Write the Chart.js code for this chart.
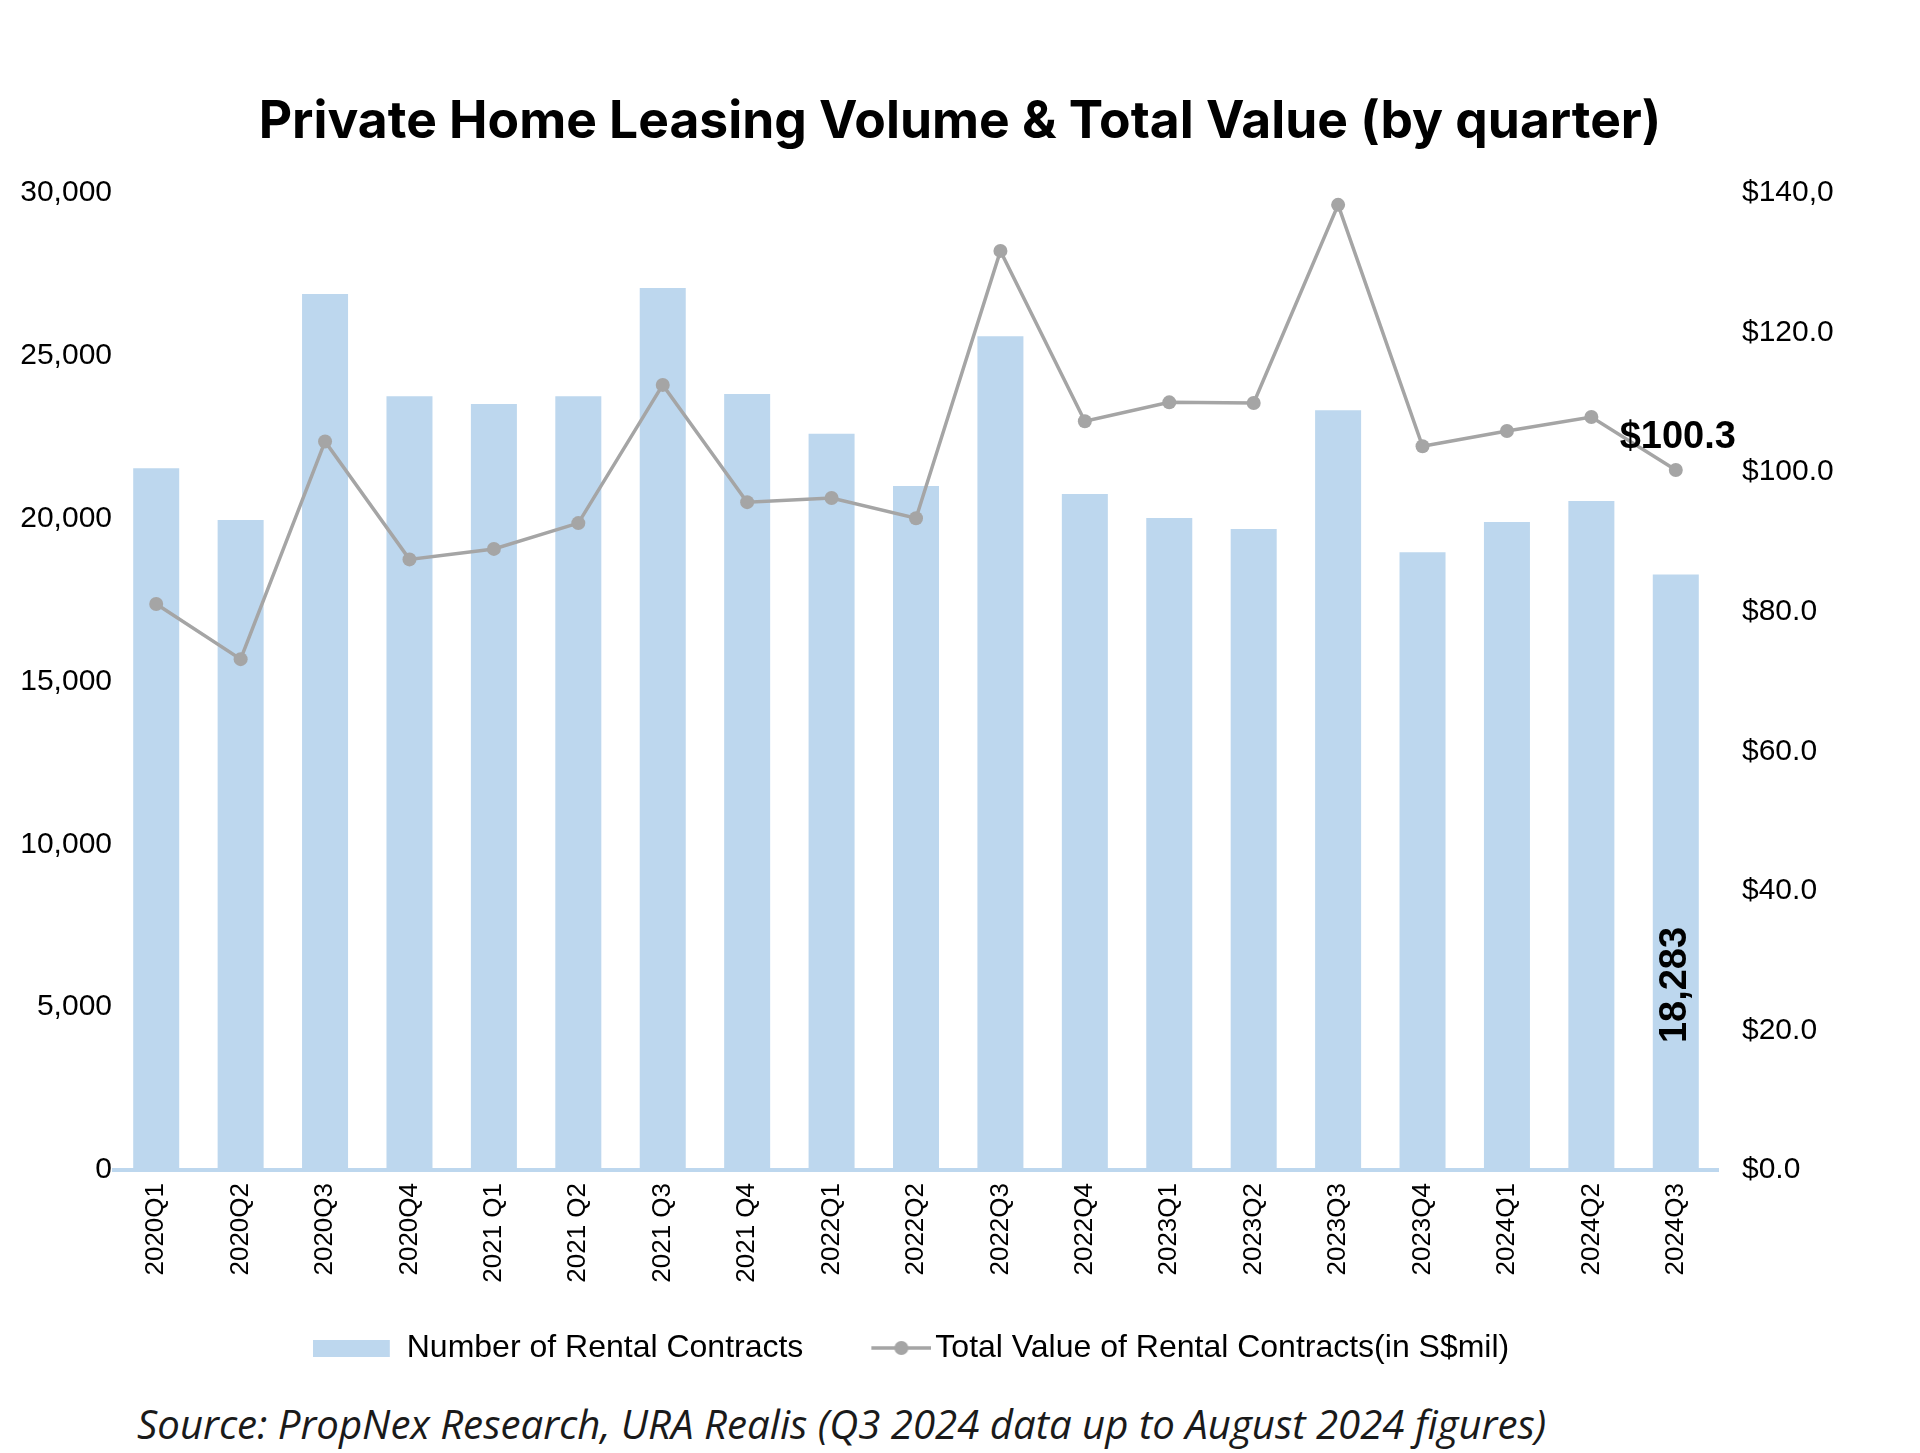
<!DOCTYPE html>
<html>
<head>
<meta charset="utf-8">
<title>Private Home Leasing Volume & Total Value</title>
<script src="https://cdn.jsdelivr.net/npm/chart.js@4.4.1/dist/chart.umd.min.js"></script>
<style>
  html, body { margin: 0; padding: 0; background: #fff; }
  #wrap { position: relative; width: 1920px; height: 1453px; overflow: hidden; }
  #chart { position: absolute; left: 0; top: 0; }
  #source {
    position: absolute; left: 137px; top: 1404px;
    font-family: "Open Sans", sans-serif; font-style: italic;
    color: #1a1a1a; line-height: 1; white-space: nowrap;
  }
</style>
</head>
<body>
<div id="wrap">
  <canvas id="chart" width="1920" height="1374"></canvas>
  <div id="source">Source: PropNex Research, URA Realis (Q3 2024 data up to August 2024 figures)</div>
</div>
<script>
// data
var quarters = ['2020Q1', '2020Q2', '2020Q3', '2020Q4', '2021 Q1', '2021 Q2', '2021 Q3', '2021 Q4',
    '2022Q1', '2022Q2', '2022Q3', '2022Q4', '2023Q1', '2023Q2', '2023Q3', '2023Q4',
    '2024Q1', '2024Q2', '2024Q3'];
var contracts = [21550, 19960, 26900, 23760, 23520, 23760, 27080, 23830,
    22610, 21000, 25600, 20760, 20020, 19680, 23330, 18970,
    19900, 20540, 18283];
var totalValue = [81.1, 73.2, 104.4, 87.5, 89.0, 92.7, 112.5, 95.7,
    96.3, 93.4, 131.7, 107.3, 110.0, 109.9, 138.3, 103.7,
    105.9, 107.9, 100.3];
var leftTickLabels = ['0', '5,000', '10,000', '15,000', '20,000', '25,000', '30,000'];
var rightTickLabels = ['$0.0', '$20.0', '$40.0', '$60.0', '$80.0', '$100.0', '$120.0', '$140,0'];

var titleText = 'Private Home Leasing Volume & Total Value (by quarter)';

// colors
var barColor = '#BDD7EE';
var lineColor = '#A5A5A5';

// size a font so the text spans a given width
function fitSize(text, prefix, family, target) {
    var c = document.createElement('canvas').getContext('2d');
    c.font = prefix + ' 100px ' + family;
    return 100 * target / c.measureText(text).width;
}

var titleSize = fitSize(titleText, '700', 'Inter', 1403);
var src = document.getElementById('source');
src.style.fontSize = fitSize(src.textContent, 'italic 400', '"Open Sans"', 1408).toFixed(1) + 'px';

// legend symbols (images are centred in the legend box, so pad them to sit like the original)
function barSymbol() {
    var c = document.createElement('canvas');
    c.width = 88; c.height = 17;
    var x = c.getContext('2d');
    x.fillStyle = barColor;
    x.fillRect(0, 0, 77, 17);
    return c;
}
function lineSymbol() {
    var c = document.createElement('canvas');
    c.width = 92; c.height = 16;
    var x = c.getContext('2d');
    x.strokeStyle = lineColor;
    x.lineWidth = 3.5;
    x.beginPath(); x.moveTo(32, 8); x.lineTo(92, 8); x.stroke();
    x.fillStyle = lineColor;
    x.beginPath(); x.arc(62, 8, 7, 0, Math.PI * 2); x.fill();
    return c;
}
var legendSymbols = [barSymbol(), lineSymbol()];

// bold callouts on the last quarter
var callouts = {
    id: 'callouts',
    afterDatasetsDraw: function (chart) {
        var ctx = chart.ctx;
        var last = quarters.length - 1;
        var pt = chart.getDatasetMeta(1).data[last];
        var bar = chart.getDatasetMeta(0).data[last];
        ctx.save();
        ctx.fillStyle = '#000';
        ctx.font = 'bold 38px "Liberation Sans", Arial, sans-serif';
        ctx.textAlign = 'center';
        ctx.textBaseline = 'middle';
        ctx.fillText('$' + totalValue[last].toFixed(1), pt.x + 2, pt.y - 33);
        ctx.translate(bar.x, bar.base - 185);
        ctx.rotate(-Math.PI / 2);
        ctx.fillText(contracts[last].toLocaleString('en-US'), 0, 0);
        ctx.restore();
    }
};

var tickFont = { family: '"Liberation Sans", Arial, sans-serif', size: 30 };

new Chart(document.getElementById('chart'), {
    data: {
        labels: quarters,
        datasets: [{
            type: 'bar',
            label: 'Number of Rental Contracts',
            data: contracts,
            backgroundColor: barColor,
            borderWidth: 0,
            categoryPercentage: 1,
            barPercentage: 0.545,
            yAxisID: 'y',
            order: 2
        }, {
            type: 'line',
            label: 'Total Value of Rental Contracts(in S$mil)',
            data: totalValue,
            borderColor: lineColor,
            backgroundColor: lineColor,
            borderWidth: 3.5,
            pointRadius: 7,
            pointBackgroundColor: lineColor,
            pointBorderWidth: 0,
            tension: 0,
            yAxisID: 'y1',
            order: 1
        }]
    },
    options: {
        responsive: false,
        animation: false,
        layout: { padding: 0 },
        scales: {
            x: {
                grid: { display: false, drawTicks: false },
                border: { display: true, color: barColor, width: 4 },
                ticks: {
                    color: '#000',
                    font: { family: '"Liberation Sans", Arial, sans-serif', size: 26 },
                    minRotation: 90, maxRotation: 90,
                    padding: 13, autoSkip: false
                },
                afterFit: function (s) { s.height = 114; }
            },
            y: {
                position: 'left',
                min: 0, max: 30000,
                grid: { display: false, drawTicks: false },
                border: { display: false },
                ticks: {
                    stepSize: 5000, color: '#000', font: tickFont, padding: 2,
                    callback: function (v, i) { return leftTickLabels[i]; }
                },
                afterFit: function (s) { s.width = 114; }
            },
            y1: {
                position: 'right',
                min: 0, max: 140,
                grid: { display: false, drawTicks: false },
                border: { display: false },
                ticks: {
                    stepSize: 20, color: '#000', font: tickFont, padding: 24,
                    callback: function (v, i) { return rightTickLabels[i]; }
                },
                afterFit: function (s) { s.width = 202; }
            }
        },
        plugins: {
            title: {
                display: true,
                text: titleText,
                color: '#000',
                font: { family: 'Inter', weight: '700', size: titleSize, lineHeight: 1.2 },
                padding: { top: 123 - titleSize * 0.6, bottom: 70 - titleSize * 0.6 }
            },
            legend: {
                position: 'bottom',
                fullSize: false,
                labels: {
                    color: '#000',
                    font: { family: '"Liberation Sans", Arial, sans-serif', size: 32 },
                    usePointStyle: true,
                    pointStyleWidth: 68,
                    boxHeight: 17,
                    padding: 48,
                    sort: function (a, b) { return a.datasetIndex - b.datasetIndex; },
                    generateLabels: function (chart) {
                        var items = Chart.defaults.plugins.legend.labels.generateLabels(chart);
                        items.forEach(function (it) { it.pointStyle = legendSymbols[it.datasetIndex]; });
                        return items;
                    }
                }
            },
            tooltip: { enabled: false }
        }
    },
    plugins: [callouts]
});
</script>
</body>
</html>
